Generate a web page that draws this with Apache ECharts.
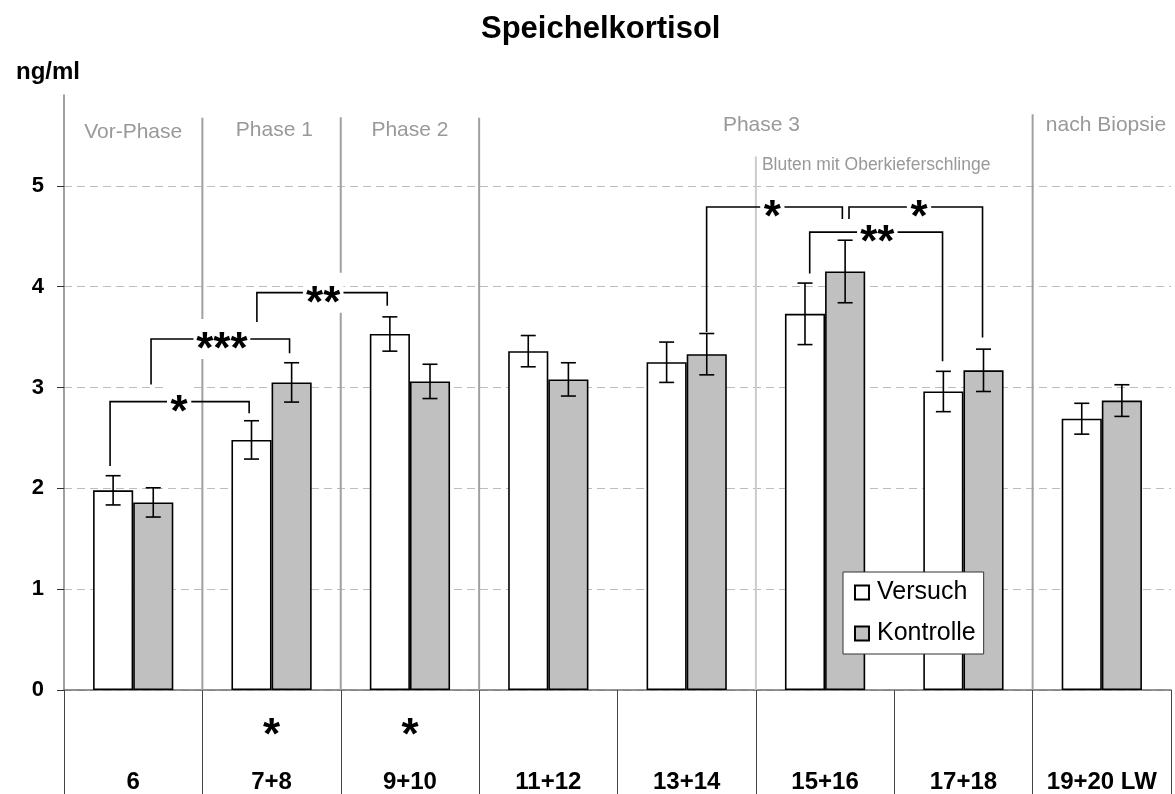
<!DOCTYPE html>
<html>
<head>
<meta charset="utf-8">
<title>Speichelkortisol</title>
<script src="https://cdn.jsdelivr.net/npm/echarts@6/dist/echarts.min.js"></script>
<style>
  html, body { margin: 0; padding: 0; background: #fff; }
  #chart { width: 1175px; height: 794px; }
</style>
</head>
<body>
<div id="chart"></div>
<script>
// Salivary cortisol (ng/ml) per week pair, trial vs. control group
const categories = ['6', '7+8', '9+10', '11+12', '13+14', '15+16', '17+18', '19+20 LW'];
const bottomMarks = ['', '*', '*', '', '', '', '', ''];
const versuch = [1.98, 2.48, 3.53, 3.36, 3.25, 3.73, 2.96, 2.69];
const versuchErr = [0.145, 0.19, 0.17, 0.155, 0.2, 0.305, 0.2, 0.153];
const kontrolle = [1.86, 3.05, 3.06, 3.08, 3.33, 4.15, 3.17, 2.87];
const kontrolleErr = [0.145, 0.195, 0.17, 0.165, 0.205, 0.31, 0.21, 0.157];
const yTicks = [0, 1, 2, 3, 4, 5];

// Phase headings (x in category units, y in ng/ml)
const phaseNames = ['Vor-Phase', 'Phase 1', 'Phase 2', 'Phase 3', 'nach Biopsie'];
const phaseLabelX = [0.5, 1.52, 2.5, 5.04, 7.53];
const phaseLabelY = [5.53, 5.55, 5.55, 5.6, 5.6];
// Phase dividers: boundary position and top end
const phaseBounds = [1, 2, 3, 7];
const phaseBoundTop = [5.675, 5.68, 5.675, 5.71];
const subPhaseName = 'Bluten mit Oberkieferschlinge';
const subPhaseBound = 5;
const subPhaseTop = 5.29;
const subPhaseLabelY = 5.2;

// Significance brackets: [label, x1, y1, x2, y2, yTop, labelX]
const brackets = [
  ['*',   0.333, 2.22, 1.338, 2.745, 2.86, 0.832],
  ['***', 0.629, 3.03, 1.630, 3.34, 3.48, 1.141],
  ['**',  1.394, 3.65, 2.336, 3.81, 3.94, 1.873],
  ['*',   4.644, 3.55, 5.625, 4.67, 4.79, 5.119],
  ['*',   5.673, 4.67, 6.638, 3.495, 4.79, 6.179],
  ['**',  5.389, 4.13, 6.349, 3.26, 4.54, 5.878]
];

const FONT = '"Liberation Sans", Arial, Helvetica, sans-serif';
const BAR_CATEGORY_GAP = 0.42;
const STAR_SIZE = 44;

const chart = echarts.init(document.getElementById('chart'), null, { renderer: 'canvas' });

function errorBarSeries(name, values, errors, sign) {
  return {
    name: name + ' SE',
    type: 'custom',
    xAxisIndex: 0,
    yAxisIndex: 0,
    z: 4,
    silent: true,
    data: values.map((v, i) => [i, v, errors[i]]),
    encode: { x: 0, y: 1 },
    renderItem(params, api) {
      const idx = api.value(0);
      const val = api.value(1);
      const err = api.value(2);
      const band = api.size([1, 0])[0];
      const barW = band * (1 - BAR_CATEGORY_GAP) / 2;
      const c = api.coord([idx, val]);
      const x = c[0] + sign * barW / 2;
      const top = api.coord([idx, val + err])[1];
      const bot = api.coord([idx, val - err])[1];
      const cap = 7.5;
      const st = { stroke: '#000', lineWidth: 1.6 };
      return {
        type: 'group',
        children: [
          { type: 'line', shape: { x1: x, y1: top, x2: x, y2: bot }, style: st },
          { type: 'line', shape: { x1: x - cap, y1: top, x2: x + cap, y2: top }, style: st },
          { type: 'line', shape: { x1: x - cap, y1: bot, x2: x + cap, y2: bot }, style: st }
        ]
      };
    }
  };
}

const option = {
  animation: false,
  backgroundColor: '#fff',
  title: [
    {
      text: 'Speichelkortisol',
      left: 476,
      top: 9,
      textStyle: { fontFamily: FONT, fontSize: 31, fontWeight: 'bold', color: '#000' }
    },
    {
      text: 'ng/ml',
      left: 11,
      top: 55,
      textStyle: { fontFamily: FONT, fontSize: 24, fontWeight: 'bold', color: '#000' }
    }
  ],
  legend: {
    data: ['Versuch', 'Kontrolle'],
    orient: 'vertical',
    left: 843,
    top: 572,
    itemWidth: 14,
    itemHeight: 14,
    itemGap: 16,
    padding: [8, 8, 8, 11],
    backgroundColor: '#fff',
    borderColor: '#333',
    borderWidth: 1,
    selectedMode: false,
    icon: 'rect',
    textStyle: { fontFamily: FONT, fontSize: 25, color: '#000', padding: [0, 0, 0, 3] }
  },
  grid: { left: 64, right: 4, top: 95, bottom: 103, containLabel: false },
  xAxis: [
    {
      type: 'category',
      data: categories,
      axisLine: { show: true, lineStyle: { color: '#707070', width: 1.5 } },
      axisTick: { show: true, length: 110, lineStyle: { color: '#444', width: 1 } },
      axisLabel: {
        interval: 0,
        margin: 20,
        formatter: (value, index) => '{s|' + (bottomMarks[index] || ' ') + '}\n{c|' + value + '}',
        rich: {
          s: { fontFamily: FONT, fontSize: STAR_SIZE, fontWeight: 'bold', color: '#000', lineHeight: 54 },
          c: { fontFamily: FONT, fontSize: 24, fontWeight: 'bold', color: '#000', lineHeight: 36 }
        }
      },
      splitLine: { show: false }
    },
    { type: 'value', min: 0, max: 8, show: false }
  ],
  yAxis: {
    type: 'value',
    min: 0,
    max: 5.9,
    interval: 1,
    axisLine: { show: true, lineStyle: { color: '#808080', width: 1.5 } },
    axisTick: { show: true, length: 7, customValues: yTicks, lineStyle: { color: '#333', width: 1 } },
    axisLabel: {
      customValues: yTicks,
      margin: 20,
      fontFamily: FONT,
      fontSize: 22,
      fontWeight: 'bold',
      color: '#000'
    },
    splitLine: { show: true, lineStyle: { color: '#bdbdbd', width: 1, type: [8, 5] } }
  },
  series: [
    // phase dividers
    {
      name: 'phases',
      type: 'custom',
      xAxisIndex: 1,
      yAxisIndex: 0,
      z: 1,
      silent: true,
      data: phaseBounds.map((b, i) => [b, phaseBoundTop[i]]),
      renderItem(params, api) {
        const p1 = api.coord([api.value(0), api.value(1)]);
        const p0 = api.coord([api.value(0), 0]);
        return {
          type: 'line',
          shape: { x1: p1[0], y1: p1[1], x2: p0[0], y2: p0[1] },
          style: { stroke: '#a0a0a0', lineWidth: 2 }
        };
      }
    },
    {
      name: 'subphase',
      type: 'custom',
      xAxisIndex: 1,
      yAxisIndex: 0,
      z: 1,
      silent: true,
      data: [[subPhaseBound, subPhaseTop]],
      renderItem(params, api) {
        const p1 = api.coord([api.value(0), api.value(1)]);
        const p0 = api.coord([api.value(0), 0]);
        const lbl = api.coord([api.value(0), subPhaseLabelY]);
        return {
          type: 'group',
          children: [
            {
              type: 'line',
              shape: { x1: p1[0], y1: p1[1], x2: p0[0], y2: p0[1] },
              style: { stroke: '#cccccc', lineWidth: 2 }
            },
            {
              type: 'text',
              x: lbl[0] + 6,
              y: lbl[1],
              style: {
                text: subPhaseName,
                font: '17.5px ' + FONT,
                fill: '#999999',
                align: 'left',
                verticalAlign: 'middle'
              }
            }
          ]
        };
      }
    },
    {
      name: 'phase labels',
      type: 'custom',
      xAxisIndex: 1,
      yAxisIndex: 0,
      z: 1,
      silent: true,
      data: phaseNames.map((n, i) => [phaseLabelX[i], phaseLabelY[i]]),
      renderItem(params, api) {
        const p = api.coord([api.value(0), api.value(1)]);
        return {
          type: 'text',
          x: p[0],
          y: p[1],
          style: {
            text: phaseNames[params.dataIndex],
            font: '21px ' + FONT,
            fill: '#999999',
            align: 'center',
            verticalAlign: 'middle'
          }
        };
      }
    },
    {
      name: 'Versuch',
      type: 'bar',
      xAxisIndex: 0,
      yAxisIndex: 0,
      data: versuch,
      barGap: '0%',
      barCategoryGap: (BAR_CATEGORY_GAP * 100) + '%',
      z: 3,
      itemStyle: { color: '#ffffff', borderColor: '#000', borderWidth: 1.6 }
    },
    {
      name: 'Kontrolle',
      type: 'bar',
      xAxisIndex: 0,
      yAxisIndex: 0,
      data: kontrolle,
      barGap: '0%',
      barCategoryGap: (BAR_CATEGORY_GAP * 100) + '%',
      z: 3,
      itemStyle: { color: '#c0c0c0', borderColor: '#000', borderWidth: 1.6 }
    },
    errorBarSeries('Versuch', versuch, versuchErr, -1),
    errorBarSeries('Kontrolle', kontrolle, kontrolleErr, 1),
    // significance brackets
    {
      name: 'brackets',
      type: 'custom',
      xAxisIndex: 1,
      yAxisIndex: 0,
      z: 5,
      silent: true,
      data: brackets.map(b => b.slice(1)),
      renderItem(params, api) {
        const b = brackets[params.dataIndex];
        const a = api.coord([b[1], b[2]]);
        const t1 = api.coord([b[1], b[5]]);
        const t2 = api.coord([b[3], b[5]]);
        const c = api.coord([b[3], b[4]]);
        const l = api.coord([b[6], b[5]]);
        const w = b[0].length * STAR_SIZE * 0.37 + 8;
        return {
          type: 'group',
          children: [
            {
              type: 'polyline',
              shape: { points: [a, t1, t2, c] },
              style: { stroke: '#000', lineWidth: 1.6, fill: null }
            },
            {
              type: 'rect',
              shape: { x: l[0] - w / 2, y: l[1] - 20, width: w, height: 40 },
              style: { fill: '#fff', stroke: null }
            },
            {
              type: 'text',
              x: l[0],
              y: l[1] + STAR_SIZE * 0.27,
              style: {
                text: b[0],
                font: 'bold ' + STAR_SIZE + 'px ' + FONT,
                fill: '#000',
                align: 'center',
                verticalAlign: 'middle'
              }
            }
          ]
        };
      }
    }
  ]
};

chart.setOption(option);
</script>
</body>
</html>
